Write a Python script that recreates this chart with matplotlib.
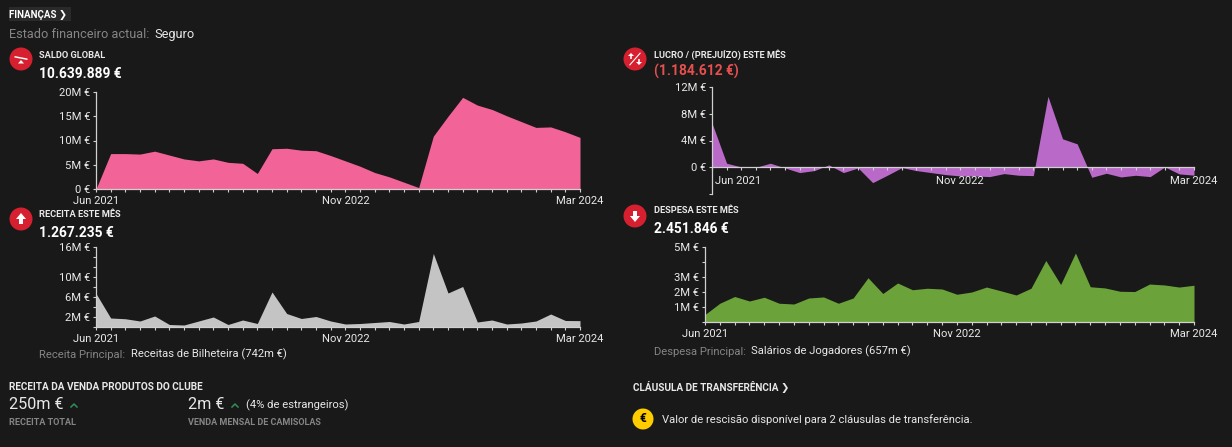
import matplotlib
matplotlib.use("Agg")
import numpy as np
import matplotlib.pyplot as plt
from matplotlib.patches import Circle, Polygon, Rectangle
from matplotlib.transforms import ScaledTranslation

W, H = 1232, 447
BG = "#191919"
AXIS = "#d0d0d0"
LIGHT = "#e8e8e8"
MUTED = "#858585"
RED = "#d6202f"

plt.rcParams["font.family"] = ["Roboto", "DejaVu Sans"]

# monthly values in millions of euro, Jun 2021 .. Mar 2024
saldo = [0.0, 7.3, 7.3, 7.2, 7.8, 7.0, 6.2, 5.8, 6.2, 5.5, 5.3, 3.2, 8.3, 8.4, 8.0, 7.9, 6.9,
         5.8, 4.7, 3.4, 2.5, 1.4, 0.3, 10.9, 15.0, 18.9, 17.3, 16.4, 15.1, 13.9, 12.7, 12.8, 11.8, 10.64]
lucro = [6.6, 0.6, 0.05, 0.0, 0.6, -0.1, -0.8, -0.5, 0.35, -0.8, -0.1, -2.3, -1.2, -0.05, -0.5, -0.8, -1.1,
         -1.3, -1.3, -1.4, -0.95, -1.2, -1.25, 10.6, 4.25, 3.5, -1.5, -0.9, -1.45, -1.2, -1.4, 0.05, -1.0, -1.18]
receita = [6.7, 1.8, 1.65, 1.2, 2.2, 0.5, 0.4, 1.2, 2.0, 0.5, 1.4, 0.7, 7.0, 2.7, 1.7, 2.1, 1.2,
           0.6, 0.7, 0.9, 1.1, 0.6, 1.1, 14.7, 6.8, 8.1, 1.0, 1.4, 0.6, 0.8, 1.2, 2.6, 1.3, 1.27]
despesa = [0.5, 1.25, 1.7, 1.4, 1.65, 1.25, 1.2, 1.6, 1.67, 1.25, 1.6, 2.95, 1.9, 2.6, 2.15, 2.25, 2.2,
           1.85, 2.0, 2.33, 2.07, 1.8, 2.25, 4.1, 2.5, 4.6, 2.35, 2.27, 2.05, 2.03, 2.53, 2.47, 2.33, 2.45]

month_labels = {0: "Jun 2021", 17: "Nov 2022", 33: "Mar 2024"}

saldo_ticks = [0, 5, 10, 15, 20]
saldo_ticklabels = ["0 €", "5M €", "10M €", "15M €", "20M €"]
lucro_ticks = [-4, 0, 4, 8, 12]
lucro_ticklabels = ["", "0 €", "4M €", "8M €", "12M €"]
receita_ticks = [0, 2, 4, 6, 8, 10, 12, 14, 16]
receita_ticklabels = ["", "2M €", "", "6M €", "", "10M €", "", "", "16M €"]
despesa_ticks = [0, 1, 2, 3, 4, 5]
despesa_ticklabels = ["", "1M €", "2M €", "3M €", "", "5M €"]


def px(n):
    # font size in points for a size given in pixels at dpi 100
    return n * 72 / 100


def area_chart(box, values, ylim, yticks, yticklabels, color, zero_spine=False):
    x0, y0, x1, y1 = box
    ax = fig.add_axes([x0 / W, 1 - y1 / H, (x1 - x0) / W, (y1 - y0) / H])
    ax.set_facecolor("none")
    xs = np.arange(len(values))
    ax.fill_between(xs, values, 0, color=color, lw=0)
    ax.set_xlim(0, len(values) - 1)
    ax.set_ylim(*ylim)
    ax.set_yticks(yticks)
    ax.set_yticklabels(yticklabels)
    ax.set_xticks(xs)
    ax.set_xticklabels([month_labels.get(i, "") for i in xs])
    for name in ["top", "right"]:
        ax.spines[name].set_visible(False)
    for name in ["left", "bottom"]:
        ax.spines[name].set_color(AXIS)
        ax.spines[name].set_linewidth(0.9)
    ax.tick_params(axis="y", length=2.5, width=0.8, color=AXIS, labelcolor=LIGHT,
                   labelsize=px(11.3), pad=1.8)
    ax.tick_params(axis="x", length=2.5, width=0.8, color=AXIS, labelcolor=LIGHT,
                   labelsize=px(11.3), pad=4 if zero_spine else 2.8)
    if zero_spine:
        ax.spines["bottom"].set_position(("data", 0))
        first = ax.get_xticklabels()[0]
        first.set_ha("left")
        first.set_transform(first.get_transform() + ScaledTranslation(3 / 100, 0, fig.dpi_scale_trans))
    return ax


def label(x, y, s, size, color=LIGHT, weight="normal", ha="left"):
    bg.text(x, y + 0.7, s, fontsize=px(size), color=color, fontweight=weight, ha=ha, va="center")


def icon(cx, cy, shapes):
    bg.add_patch(Circle((cx, cy), 11.5, color=RED, lw=0))
    for pts in shapes:
        bg.add_patch(Polygon([(cx + a, cy + b) for a, b in pts], closed=True, color="white", lw=0))


fig = plt.figure(figsize=(W / 100, H / 100), dpi=100, facecolor=BG)
bg = fig.add_axes([0, 0, 1, 1])
bg.set_xlim(0, W)
bg.set_ylim(H, 0)
bg.axis("off")

# header
bg.add_patch(Rectangle((9, 7), 62, 14, color="#2a2a2a", lw=0))
label(9, 14.5, "FINANÇAS ❯", 9.8, "white", "bold")
label(9, 34, "Estado financeiro actual:", 12.7, MUTED)
label(154, 34, "Seguro", 12.7, LIGHT)

# section heads and icons
UP = [(0, -6), (5, 0), (2, 0), (2, 5), (-2, 5), (-2, 0), (-5, 0)]
DOWN = [(a, -b) for a, b in UP]
SEESAW = [[(-6.5, -3), (6.5, -0.5), (6.5, 1), (-6.5, -1.5)], [(0, 1), (3, 4.5), (-3, 4.5)]]
PERCENT = [[(5, -6.5), (6, -6), (-5, 6.5), (-6, 6)],
           [(-4, -6), (-1, -3), (-3.2, -3), (-3.2, 0), (-4.8, 0), (-4.8, -3), (-7, -3)],
           [(4, 6), (1, 3), (3.2, 3), (3.2, 0), (4.8, 0), (4.8, 3), (7, 3)]]

icon(21, 59, SEESAW)
label(39, 54.5, "SALDO GLOBAL", 9.3, LIGHT, "bold")
label(39, 73, "10.639.889 €", 13.8, "white", "bold")

icon(635, 59, PERCENT)
label(654, 54.5, "LUCRO / (PREJUÍZO) ESTE MÊS", 9.3, LIGHT, "bold")
label(654, 71, "(1.184.612 €)", 13.8, "#e5504f", "bold")

icon(21, 219, [UP])
label(39, 214, "RECEITA ESTE MÊS", 9.3, LIGHT, "bold")
label(39, 232, "1.267.235 €", 13.8, "white", "bold")

icon(635, 216, [DOWN])
label(654, 210, "DESPESA ESTE MÊS", 9.3, LIGHT, "bold")
label(654, 228, "2.451.846 €", 13.8, "white", "bold")

# the four monthly charts
area_chart((96, 92, 580, 189), saldo, (0, 20), saldo_ticks, saldo_ticklabels, "#f26397")
area_chart((712, 87, 1194, 194), lucro, (-4, 12), lucro_ticks, lucro_ticklabels, "#b96ac9", zero_spine=True)
area_chart((96, 247, 580, 327), receita, (0, 16), receita_ticks, receita_ticklabels, "#c4c4c4")
area_chart((705, 247, 1194, 322), despesa, (0, 5), despesa_ticks, despesa_ticklabels, "#6ba33a")

# captions under the charts
label(39, 354, "Receita Principal:", 11.3, MUTED)
label(131, 354, "Receitas de Bilheteira (742m €)", 11.3, LIGHT)
label(654, 351, "Despesa Principal:", 11.3, MUTED)
label(751, 351, "Salários de Jogadores (657m €)", 11.3, LIGHT)

# merchandising block
label(9, 386.5, "RECEITA DA VENDA PRODUTOS DO CLUBE", 10, LIGHT, "bold")
label(9, 404, "250m €", 16.2, LIGHT)
label(188, 404, "2m €", 16.2, LIGHT)
bg.plot([71, 74, 77], [407, 404, 407], color="#2f8f57", lw=1.1)
bg.plot([232, 235, 238], [407, 404, 407], color="#2f8f57", lw=1.1)
label(246, 405, "(4% de estrangeiros)", 11.2, LIGHT)
label(9, 422, "RECEITA TOTAL", 9.2, MUTED, "bold")
label(188, 422, "VENDA MENSAL DE CAMISOLAS", 9, MUTED, "bold")

# release clause block
label(633, 386.5, "CLÁUSULA DE TRANSFERÊNCIA ❯", 10, LIGHT, "bold")
bg.add_patch(Circle((643, 419), 10.5, color="#ffcc00", lw=0))
bg.text(643, 419, "€", fontsize=px(12), color="black", fontweight="bold", ha="center", va="center")
label(662, 419, "Valor de rescisão disponível para 2 cláusulas de transferência.", 11.25, LIGHT)

fig.savefig("out.png", dpi=100, facecolor=BG)
